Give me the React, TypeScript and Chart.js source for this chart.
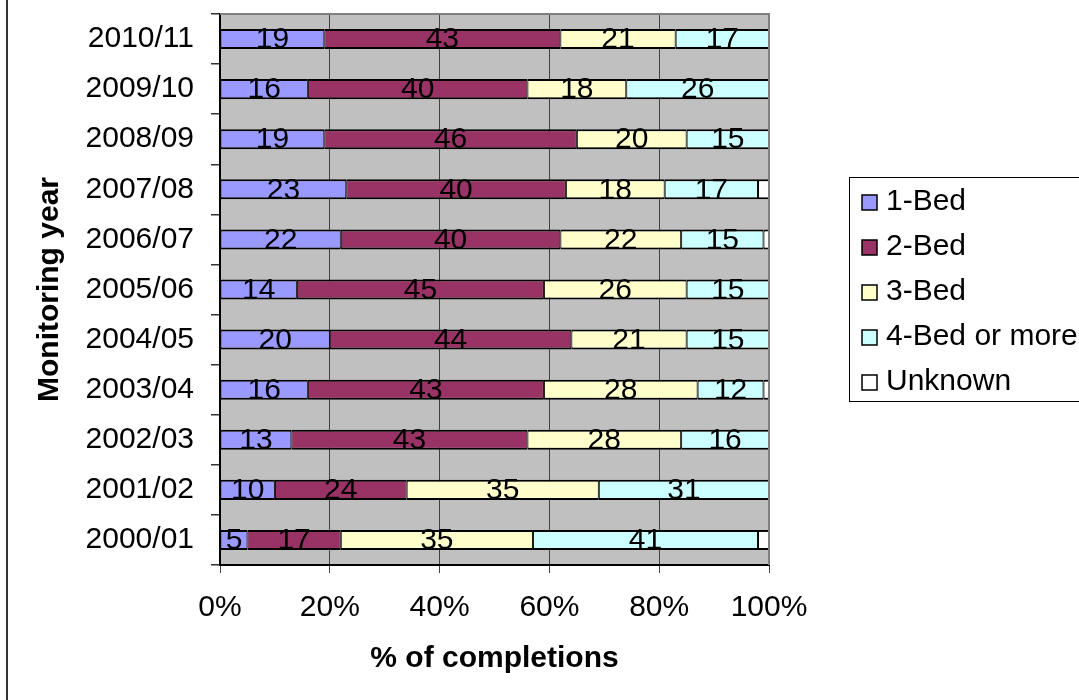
import React, { useEffect, useRef } from "react";
import { Chart, registerables } from "chart.js";

Chart.register(...registerables);

// Monitoring years, listed top to bottom
const years = [
  "2010/11",
  "2009/10",
  "2008/09",
  "2007/08",
  "2006/07",
  "2005/06",
  "2004/05",
  "2003/04",
  "2002/03",
  "2001/02",
  "2000/01",
];

// Share of completions (%) by dwelling size
const oneBed = [19, 16, 19, 23, 22, 14, 20, 16, 13, 10, 5];
const twoBed = [43, 40, 46, 40, 40, 45, 44, 43, 43, 24, 17];
const threeBed = [21, 18, 20, 18, 22, 26, 21, 28, 28, 35, 35];
const fourBed = [17, 26, 15, 17, 15, 15, 15, 12, 16, 31, 41];
const unknown = [0, 0, 0, 2, 1, 0, 0, 1, 0, 0, 2];

const seriesNames = ["1-Bed", "2-Bed", "3-Bed", "4-Bed or more", "Unknown"];
const seriesColors = ["#9999FF", "#993366", "#FFFFCC", "#CCFFFF", "#FFFFFF"];
const seriesValues = [oneBed, twoBed, threeBed, fourBed, unknown];

const xTickStep = 20;
const xMax = 100;

const FONT = '"Liberation Sans", Arial, Helvetica, sans-serif';
const TEXT_SIZE = 30;

// Paints the white page and the grey plot background
const backgroundPlugin = {
  id: "background",
  beforeDraw(chart: any) {
    const { ctx, chartArea } = chart;
    ctx.save();
    ctx.fillStyle = "#FFFFFF";
    ctx.fillRect(0, 0, chart.width, chart.height);
    ctx.fillStyle = "#C0C0C0";
    ctx.fillRect(
      chartArea.left,
      chartArea.top,
      chartArea.right - chartArea.left,
      chartArea.bottom - chartArea.top
    );
    ctx.restore();
  },
};

// Writes each segment's value in the middle of its bar
const valueLabelPlugin = {
  id: "valueLabels",
  afterDatasetsDraw(chart: any) {
    const { ctx } = chart;
    ctx.save();
    ctx.font = `${TEXT_SIZE}px ${FONT}`;
    ctx.fillStyle = "#000000";
    ctx.textAlign = "center";
    ctx.textBaseline = "middle";
    chart.data.datasets.forEach((ds: any, i: number) => {
      if (ds.label === "Unknown") return;
      const meta = chart.getDatasetMeta(i);
      meta.data.forEach((el: any, j: number) => {
        const v = ds.data[j];
        if (!v) return;
        const { x, y, base } = el.getProps(["x", "y", "base"], true);
        ctx.fillText(String(v), (x + base) / 2, y + 1);
      });
    });
    ctx.restore();
  },
};

// Plot frame, outer left rule and the boxed legend
const framePlugin = {
  id: "frame",
  afterDraw(chart: any) {
    const { ctx, chartArea } = chart;
    ctx.save();

    // grey plot border on top and right
    ctx.strokeStyle = "#808080";
    ctx.lineWidth = 2;
    ctx.beginPath();
    ctx.moveTo(chartArea.left, chartArea.top);
    ctx.lineTo(chartArea.right, chartArea.top);
    ctx.lineTo(chartArea.right, chartArea.bottom);
    ctx.stroke();

    // outer rule down the left edge
    ctx.strokeStyle = "#333333";
    ctx.lineWidth = 2;
    ctx.beginPath();
    ctx.moveTo(7, 0);
    ctx.lineTo(7, chart.height);
    ctx.stroke();

    // legend box
    const boxLeft = 849.5;
    const boxTop = 177.5;
    const boxBottom = 401.5;
    ctx.fillStyle = "#FFFFFF";
    ctx.fillRect(boxLeft, boxTop, chart.width - boxLeft + 5, boxBottom - boxTop);
    ctx.strokeStyle = "#000000";
    ctx.lineWidth = 1;
    ctx.strokeRect(boxLeft, boxTop, chart.width - boxLeft + 5, boxBottom - boxTop);

    ctx.font = `${TEXT_SIZE}px ${FONT}`;
    ctx.textAlign = "left";
    ctx.textBaseline = "middle";
    chart.data.datasets.forEach((ds: any, i: number) => {
      const cy = 202 + i * 45;
      ctx.fillStyle = ds.backgroundColor;
      ctx.fillRect(862, cy - 7, 15, 15);
      ctx.strokeStyle = "#000000";
      ctx.lineWidth = 1.5;
      ctx.strokeRect(862, cy - 7, 15, 15);
      ctx.fillStyle = "#000000";
      ctx.fillText(ds.label, 886, cy);
    });

    ctx.restore();
  },
};

export default function App() {
  const canvasRef = useRef<HTMLCanvasElement | null>(null);

  useEffect(() => {
    const canvas = canvasRef.current;
    if (!canvas) return;

    const chart = new Chart(canvas, {
      type: "bar",
      data: {
        labels: years,
        datasets: seriesNames.map((name, i) => ({
          label: name,
          data: seriesValues[i],
          backgroundColor: seriesColors[i],
          borderColor: "#000000",
          borderWidth: { top: 2, bottom: 2, left: 1, right: 1 },
          borderSkipped: false,
          barPercentage: 0.4,
          categoryPercentage: 1,
        })),
      },
      options: {
        indexAxis: "y",
        responsive: false,
        animation: false,
        events: [],
        layout: { padding: { left: 0, top: 14, right: 310, bottom: 0 } },
        plugins: {
          legend: { display: false },
          tooltip: { enabled: false },
          title: { display: false },
        },
        scales: {
          x: {
            stacked: true,
            min: 0,
            max: xMax,
            afterFit(scale: any) {
              scale.height = 135;
              scale.paddingLeft = 0;
              scale.paddingRight = 0;
            },
            ticks: {
              stepSize: xTickStep,
              padding: 17,
              color: "#000000",
              font: { family: FONT, size: TEXT_SIZE },
              callback: (v: any) => `${v}%`,
            },
            grid: {
              color: "#404040",
              lineWidth: 1,
              drawTicks: true,
              tickLength: 8,
            },
            border: { display: true, color: "#000000", width: 2 },
            title: {
              display: true,
              text: "% of completions",
              color: "#000000",
              font: { family: FONT, size: TEXT_SIZE, weight: "bold" },
              padding: { top: 0, bottom: 23 },
            },
          },
          y: {
            stacked: true,
            afterFit(scale: any) {
              scale.width = 220;
              scale.paddingTop = 0;
              scale.paddingBottom = 0;
            },
            ticks: {
              padding: 17,
              color: "#000000",
              font: { family: FONT, size: TEXT_SIZE },
            },
            grid: {
              drawOnChartArea: false,
              drawTicks: true,
              tickLength: 9,
              color: "#333333",
              lineWidth: 1.5,
            },
            border: { display: true, color: "#000000", width: 2 },
            title: {
              display: true,
              text: "Monitoring year",
              color: "#000000",
              font: { family: FONT, size: TEXT_SIZE, weight: "bold" },
              padding: { top: 32, bottom: 0 },
            },
          },
        },
      },
      plugins: [backgroundPlugin, valueLabelPlugin, framePlugin],
    } as any);

    return () => chart.destroy();
  }, []);

  return (
    <div style={{ position: "fixed", left: 0, top: 0, width: 1079, height: 700, background: "#FFFFFF" }}>
      <canvas ref={canvasRef} width={1079} height={700} style={{ display: "block" }} />
    </div>
  );
}
